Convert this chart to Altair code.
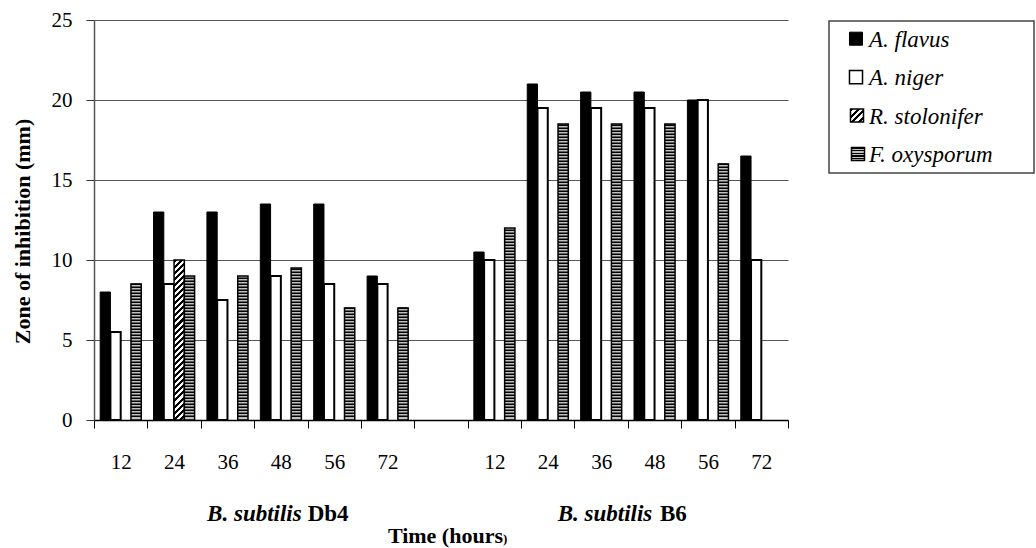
import altair as alt
import pandas as pd

# ---------------- data ----------------
times = ["12", "24", "36", "48", "56", "72"]
strains = ["Db4", "B6"]
species = ["A. flavus", "A. niger", "R. stolonifer", "F. oxysporum"]

flavus_db4 = [8, 13, 13, 13.5, 13.5, 9]
niger_db4 = [5.5, 8.5, 7.5, 9, 8.5, 8.5]
stolonifer_db4 = [0, 10, 0, 0, 0, 0]
oxysporum_db4 = [8.5, 9, 9, 9.5, 7, 7]

flavus_b6 = [10.5, 21, 20.5, 20.5, 20, 16.5]
niger_b6 = [10, 19.5, 19.5, 19.5, 20, 10]
stolonifer_b6 = [0, 0, 0, 0, 0, 0]
oxysporum_b6 = [12, 18.5, 18.5, 18.5, 16, 0]

series = {
    ("Db4", "A. flavus"): flavus_db4,
    ("Db4", "A. niger"): niger_db4,
    ("Db4", "R. stolonifer"): stolonifer_db4,
    ("Db4", "F. oxysporum"): oxysporum_db4,
    ("B6", "A. flavus"): flavus_b6,
    ("B6", "A. niger"): niger_b6,
    ("B6", "R. stolonifer"): stolonifer_b6,
    ("B6", "F. oxysporum"): oxysporum_b6,
}

rows = []
for (strain, sp), vals in series.items():
    for t, v in zip(times, vals):
        if v > 0:
            rows.append({"cat": f"{strain}_{t}", "species": sp, "value": v})
df = pd.DataFrame(rows)

cats = [f"Db4_{t}" for t in times] + ["gap_"] + [f"B6_{t}" for t in times]

# ---------------- geometry / style ----------------
W, H = 694, 400
FONT = "Liberation Serif, Times New Roman, Times, DejaVu Serif, serif"
slot = W / len(cats)
PO = 0.6
bar_w = slot / (4 + 2 * PO)
px_per_unit = H / 25


def stripe_gradient(n, x2, y2, c1, c2):
    stops = []
    for i in range(n):
        a, b, c = i / n, (i + 0.5) / n, (i + 1) / n
        stops += [
            alt.GradientStop(offset=a, color=c1),
            alt.GradientStop(offset=b, color=c1),
            alt.GradientStop(offset=b, color=c2),
            alt.GradientStop(offset=c, color=c2),
        ]
    return alt.LinearGradient(gradient="linear", stops=stops, x1=0, y1=0, x2=x2, y2=y2)


# diagonal hatch for the R. stolonifer bar (45 degrees in screen space)
stol_h = max(stolonifer_db4 + stolonifer_b6) * px_per_unit
r = stol_h / bar_w
k = (1 + r) / (1 + r * r)
hatch_bar = stripe_gradient(round((bar_w + stol_h) / 6), k, k * r, "black", "white")
hatch_legend = stripe_gradient(4, 1, 1, "black", "white")
hstripe_legend = stripe_gradient(5, 0, 1, "black", "#c0c0c0")

x_axis = alt.Axis(
    title=None,
    labelExpr="split(datum.value, '_')[1]",
    tickBand="extent",
    labelAngle=0,
    labelFont=FONT,
    labelFontSize=21,
    labelColor="black",
    labelPadding=40,
    labelBaseline="alphabetic",
    tickSize=8,
    tickColor="black",
    domainColor="black",
    domainWidth=1.5,
    grid=False,
)
x_scale = alt.Scale(domain=cats, paddingInner=0, paddingOuter=0)
xo = alt.XOffset("species:N", scale=alt.Scale(domain=species, paddingInner=0, paddingOuter=PO))

y_axis = alt.Axis(
    values=[0, 5, 10, 15, 20, 25],
    grid=True,
    gridColor="#555",
    gridWidth=1,
    title="Zone of inhibition (mm)",
    titleFont=FONT,
    titleFontSize=22,
    titleFontWeight="bold",
    titleColor="black",
    titleAngle=270,
    titleX=-72,
    titleY=211,
    titleAlign="center",
    titleBaseline="middle",
    labelFont=FONT,
    labelFontSize=21,
    labelColor="black",
    labelPadding=14,
    labelBaseline="middle",
    tickSize=8,
    tickColor="#333",
    domainColor="#555",
    domainWidth=1.5,
)
y_scale = alt.Scale(domain=[0, 25], nice=False, zero=True)


def X():
    return alt.X("cat:N", scale=x_scale, axis=x_axis)


def Y(field):
    return alt.Y(field, scale=y_scale, axis=y_axis)


base = alt.Chart(df)

flavus = base.mark_bar(fill="black", stroke="black", strokeWidth=1).encode(
    x=X(), xOffset=xo, y=Y("value:Q")
).transform_filter(alt.datum.species == "A. flavus")

niger = base.mark_bar(fill="white", stroke="black", strokeWidth=2).encode(
    x=X(), xOffset=xo, y=Y("value:Q")
).transform_filter(alt.datum.species == "A. niger")

stol = base.mark_bar(fill=hatch_bar, stroke="black", strokeWidth=1.5).encode(
    x=X(), xOffset=xo, y=Y("value:Q")
).transform_filter(alt.datum.species == "R. stolonifer")

oxy = base.mark_bar(fill="#c0c0c0", stroke="black", strokeWidth=1.5).encode(
    x=X(), xOffset=xo, y=Y("value:Q")
).transform_filter(alt.datum.species == "F. oxysporum")

step = 3 / px_per_unit
oxy_stripes = base.mark_bar(fill="black").encode(
    x=X(), xOffset=xo, y=Y("s:Q"), y2="s2:Q"
).transform_filter(
    alt.datum.species == "F. oxysporum"
).transform_calculate(
    s=f"sequence({step}, datum.value, {step})"
).transform_flatten(["s"]).transform_calculate(
    s2=f"datum.s + {1.5 / px_per_unit}"
)

one = pd.DataFrame({"k": [0]})
grp = alt.Chart(one)
txt = dict(font=FONT, fontSize=23, fontWeight="bold", color="black", baseline="alphabetic")
g1a = grp.mark_text(text="B. subtilis", align="right", fontStyle="italic", **txt).encode(
    x=alt.value(207.7), y=alt.value(500.7))
g1b = grp.mark_text(text="Db4", align="left", **txt).encode(x=alt.value(213.7), y=alt.value(500.7))
g2a = grp.mark_text(text="B. subtilis", align="right", fontStyle="italic", **txt).encode(
    x=alt.value(558.3), y=alt.value(500.7))
g2b = grp.mark_text(text="B6", align="left", **txt).encode(x=alt.value(566), y=alt.value(500.7))
t1 = grp.mark_text(text="Time (hours", align="right", font=FONT, fontSize=22, fontWeight="bold",
                   color="black", baseline="alphabetic").encode(x=alt.value(409), y=alt.value(523))
t2 = grp.mark_text(text=")", align="left", font=FONT, fontSize=13, fontWeight="bold",
                   color="black", baseline="alphabetic").encode(x=alt.value(409), y=alt.value(523))

main = alt.layer(flavus, niger, stol, oxy, oxy_stripes, g1a, g1b, g2a, g2b, t1, t2)

# ---------------- legend ----------------
leg_df = pd.DataFrame({"species": species})
leg_y = alt.Y("species:N", scale=alt.Scale(type="point", domain=species, range=[26.7, 142], padding=0), axis=None)
leg = alt.Chart(leg_df)
box = grp.mark_rect(fill="white", stroke="#444", strokeWidth=1.5).encode(
    x=alt.value(735), x2=alt.value(940), y=alt.value(1), y2=alt.value(153))
leg_text = leg.mark_text(align="left", baseline="alphabetic", font=FONT, fontSize=23,
                         fontStyle="italic", color="black").encode(
    x=alt.value(775), y=leg_y, text="species:N")
sym_size = 170
s_fl = leg.mark_square(size=sym_size, fill="black", stroke="black", strokeWidth=1, opacity=1, yOffset=-8).encode(
    x=alt.value(762), y=leg_y).transform_filter(alt.datum.species == "A. flavus")
s_ni = leg.mark_square(size=sym_size, fill="white", stroke="black", strokeWidth=1.5, opacity=1, yOffset=-8).encode(
    x=alt.value(762), y=leg_y).transform_filter(alt.datum.species == "A. niger")
s_st = leg.mark_square(size=sym_size, fill=hatch_legend, stroke="black", strokeWidth=1.5, opacity=1, yOffset=-8).encode(
    x=alt.value(763), y=leg_y).transform_filter(alt.datum.species == "R. stolonifer")
s_ox = leg.mark_square(size=sym_size, fill=hstripe_legend, stroke="black", strokeWidth=1.5, opacity=1, yOffset=-8).encode(
    x=alt.value(764), y=leg_y).transform_filter(alt.datum.species == "F. oxysporum")
legend = alt.layer(box, leg_text, s_fl, s_ni, s_st, s_ox)

chart = alt.layer(main, legend).resolve_scale(y="independent").properties(
    width=W,
    height=H,
    autosize=alt.AutoSizeParams(type="none"),
    padding={"left": 94, "top": 20, "right": 1036 - 94 - W, "bottom": 548 - 20 - H},
    background="white",
).configure_view(stroke=None)

chart.save("out.html", embed_options={"renderer": "svg", "actions": False})
